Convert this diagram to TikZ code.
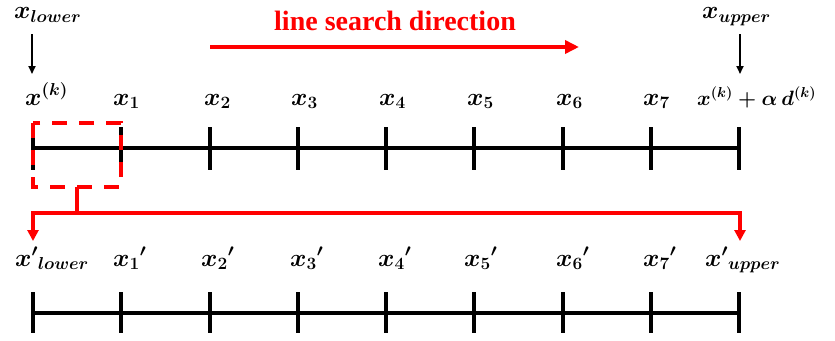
\documentclass[tikz,border=0pt]{standalone}
\usepackage{fontspec}
\setmainfont{Liberation Serif}
\usetikzlibrary{arrows.meta}
\definecolor{pured}{RGB}{255,0,0}
\begin{document}
\begin{tikzpicture}[x=1pt,y=-1pt,
  lbl/.style={inner sep=0pt,anchor=base west,font=\fontsize{24}{28}\selectfont\boldmath},
  axis/.style={line width=3.4pt},
  tick/.style={line width=3.2pt},
  blk/.style={line width=1.8pt,-{Triangle[length=8pt,width=7pt]}},
  redarr/.style={pured,line width=3.2pt,-{Triangle[length=11pt,width=11pt]}},
  dashbox/.style={pured,line width=3.2pt,dash pattern=on 15pt off 12pt}]
\useasboundingbox (0,0) rectangle (835,340);
% axes
\foreach \i/\x in {0/33,1/121,2/210,3/298,4/386,5/474,6/563,7/651,8/739}{
  \coordinate (t\i) at (\x,148);
  \coordinate (b\i) at (\x,313);
  \draw[tick] (\x,127) -- (\x,170);
  \draw[tick] (\x,292) -- (\x,333);
}
\draw[axis] (t0) -- (t8);
\draw[axis] (b0) -- (b8);
% top labels
\node[lbl] (lk) at (25,105) {$x^{(k)}$};
\node[lbl] (l1) at (113,105) {$x_1$};
\node[lbl] (l2) at (204,105) {$x_2$};
\node[lbl] (l3) at (291,105) {$x_3$};
\node[lbl] (l4) at (379,105) {$x_4$};
\node[lbl] (l5) at (467,105) {$x_5$};
\node[lbl] (l6) at (556,105) {$x_6$};
\node[lbl] (l7) at (643,105) {$x_7$};
\node[lbl,font=\fontsize{22}{26}\selectfont\boldmath] (l8) at (697,105) {$x^{(k)}+\alpha\, d^{(k)}$};
% bounds
\node[lbl] (xl) at (14,19) {$x_{lower}$};
\node[lbl] (xu) at (702,19) {$x_{upper}$};
\coordinate (al0) at (32,34); \coordinate (al1) at (32,74);
\coordinate (au0) at (740,34); \coordinate (au1) at (740,74);
\draw[blk] (al0) -- (al1);
\draw[blk] (au0) -- (au1);
% line search direction
\node[inner sep=0pt,anchor=base,text=pured,font=\fontsize{28}{32}\selectfont\bfseries] (lsd) at (395,30) {line search direction};
\coordinate (r0) at (210,47); \coordinate (r1) at (579,47);
\draw[pured,line width=4.2pt,-{Triangle[length=14pt,width=13pt]}] (r0) -- (r1);
% dashed box
\coordinate (d0) at (33,123); \coordinate (d1) at (121,187);
\draw[dashbox] (d0) rectangle (d1);
\coordinate (c0) at (77,187); \coordinate (c1) at (77,213);
\coordinate (hL) at (33,213); \coordinate (hR) at (740,213);
\coordinate (eL) at (33,241); \coordinate (eR) at (740,241);
\draw[pured,line width=3.2pt] (c0) -- (c1);
\draw[redarr] (c1) -- (hL) -- (eL);
\draw[redarr] (c1) -- (hR) -- (eR);
% bottom labels
\node[lbl] (m0) at (15,266) {$x'{}_{lower}$};
\node[lbl] (m1) at (113,266) {$x_1{}'$};
\node[lbl] (m2) at (201,266) {$x_2{}'$};
\node[lbl] (m3) at (290,266) {$x_3{}'$};
\node[lbl] (m4) at (378,266) {$x_4{}'$};
\node[lbl] (m5) at (464,266) {$x_5{}'$};
\node[lbl] (m6) at (556,266) {$x_6{}'$};
\node[lbl] (m7) at (643,266) {$x_7{}'$};
\node[lbl] (m8) at (705,266) {$x'{}_{upper}$};
\end{tikzpicture}
\end{document}
